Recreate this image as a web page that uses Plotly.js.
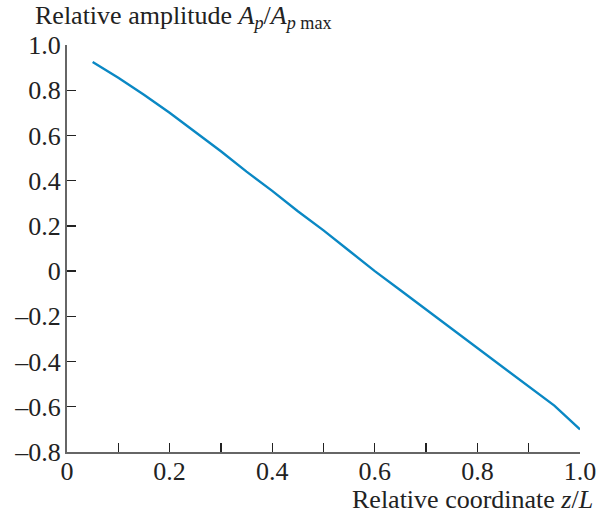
<!DOCTYPE html>
<html><head><meta charset="utf-8">
<script src="https://cdn.plot.ly/plotly-3.0.1.min.js"></script>
<style>html,body{margin:0;padding:0;background:#fff}</style>
</head><body><div id="chart" style="width:607px;height:516px"></div>
<script>
const zRel = [0.05,0.10,0.15,0.20,0.25,0.30,0.35,0.40,0.45,0.50,0.55,0.60,0.65,0.70,0.75,0.80,0.85,0.90,0.95,1.00];
const amp  = [0.925,0.855,0.78,0.70,0.615,0.53,0.44,0.355,0.265,0.18,0.09,0.0,-0.085,-0.17,-0.255,-0.34,-0.425,-0.51,-0.595,-0.70];
const xTickVals = [0,0.2,0.4,0.6,0.8,1.0];
const xTickText = ["0","0.2","0.4","0.6","0.8","1.0"];
const xMinorVals = [0.1,0.3,0.5,0.7,0.9];
const yTickVals = [-0.8,-0.6,-0.4,-0.2,0,0.2,0.4,0.6,0.8,1.0];
const yTickText = ["–0.8","–0.6","–0.4","–0.2","0","0.2","0.4","0.6","0.8","1.0"];

const fam = "Liberation Serif, Times New Roman, serif";
const tickFont = {family: fam, size: 26, color: "#222"};
Plotly.newPlot("chart", [{
  x: zRel, y: amp, mode: "lines", type: "scatter",
  line: {color: "#0a88c4", width: 2.4}
}], {
  width: 607, height: 516,
  margin: {l: 67, r: 27, t: 45, b: 64},
  paper_bgcolor: "#fff", plot_bgcolor: "#fff",
  showlegend: false,
  font: tickFont,
  xaxis: {range: [0, 1.0], tickvals: xTickVals, ticktext: xTickText,
    ticks: "inside", ticklen: 9, tickcolor: "#222", tickwidth: 1.3,
    minor: {tickvals: xMinorVals, ticks: "inside", ticklen: 9, tickcolor: "#222", tickwidth: 1.3},
    ticklabelstandoff: -5,
    showline: true, linecolor: "#666", linewidth: 2, showgrid: false, zeroline: false,
    tickfont: tickFont, fixedrange: true},
  yaxis: {range: [-0.8, 1.0], tickvals: yTickVals, ticktext: yTickText,
    ticks: "inside", ticklen: 9, tickcolor: "#222", tickwidth: 1.3,
    ticklabelstandoff: -1,
    showline: true, linecolor: "#666", linewidth: 2, showgrid: false, zeroline: false,
    tickfont: tickFont, fixedrange: true},
  annotations: [
    {xref: "paper", yref: "paper", x: -0.066, y: 1.0, yshift: 28, xanchor: "left", yanchor: "middle",
     showarrow: false, font: {family: fam, size: 26, color: "#222"},
     text: "Relative amplitude <i>A<sub>p</sub></i>/<i>A<sub>p</sub></i><sub> max</sub>"},
    {xref: "paper", yref: "paper", x: 1.029, y: 0, yshift: -47, xanchor: "right", yanchor: "middle",
     showarrow: false, font: {family: fam, size: 26, color: "#222"},
     text: "Relative coordinate <i>z</i>/<i>L</i>"}
  ]
}, {displayModeBar: false, staticPlot: true});
</script></body></html>
